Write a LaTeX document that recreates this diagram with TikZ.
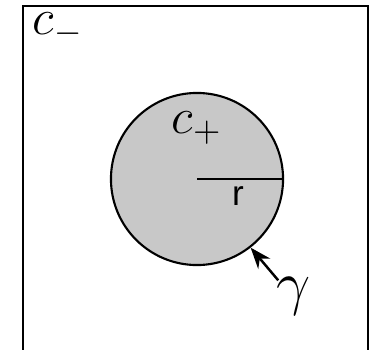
\documentclass[tikz,border=0pt]{standalone}
\usepackage{fontspec}
\newfontfamily\rfont{Liberation Sans}
\usetikzlibrary{positioning, arrows.meta, calc}
\definecolor{diskgray}{RGB}{200,200,200}

\begin{document}
\begin{tikzpicture}[
  x=0.01cm, y=-0.01cm,
  frame/.style={line width=0.8pt, line cap=rect},
  disk/.style={circle, draw, fill=diskgray, line width=0.6pt,
               minimum size=1.72cm, inner sep=0pt},
  lbl/.style={inner sep=0pt, font=\Large},
  arr/.style={-{Stealth[length=6pt, width=4.5pt]}, line width=0.7pt},
]
\useasboundingbox (0,0) rectangle (380,349);

% outer region
\draw[frame] (23,352) -- (23,6) -- (368,6) -- (368,352);
\node[lbl, anchor=west] (cminus) at (32,29) {$c_{-}$};

% inner disk
\node[disk] (cplus) at (197,179) {};
\node[lbl] (cpluslbl) at (197,128) {$c_{+}$};

% radius
\draw[line width=0.8pt] (cplus.center) -- (cplus.east);
\node[inner sep=0pt, font=\rfont] (rad) at (238,196) {r};

% boundary
\node[inner sep=0pt, font=\fontsize{16}{19}\selectfont] (gam) at (294,296) {$\gamma$};
\draw[arr] ($(gam.north west)+(2,4)$) -- (cplus.-52);

\end{tikzpicture}
\end{document}
